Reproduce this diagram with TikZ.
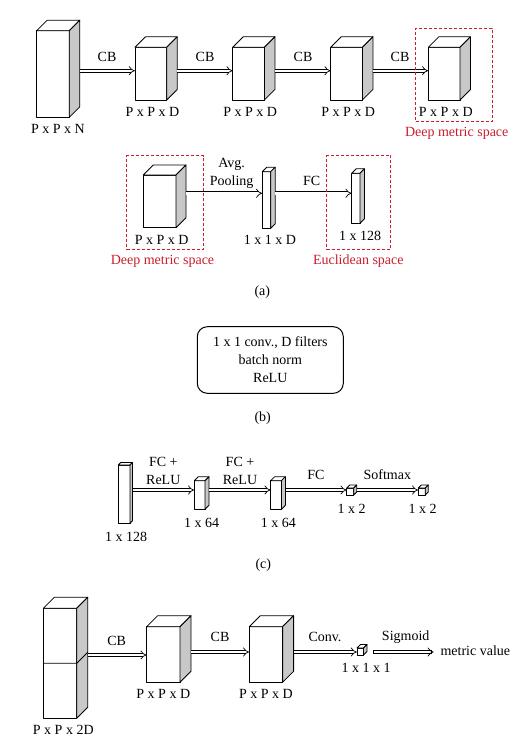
\documentclass[tikz,border=0pt]{standalone}
\usepackage{fontspec}
\setmainfont{Liberation Serif}
\usetikzlibrary{arrows.meta,fit}
\definecolor{dred}{RGB}{200,30,45}
\definecolor{sidegray}{RGB}{200,200,200}
\tikzset{
 boxline/.style={line width=0.8pt, line join=round},
 arr/.style={double, double distance=2.4pt, line width=0.7pt, -{Implies}},
 lbl/.style={inner sep=0pt, font=\fontsize{14}{18}\selectfont},
 redlbl/.style={lbl, text=dred},
 redbox/.style={draw=dred, line width=0.8pt, dash pattern=on 3pt off 2pt, inner sep=0pt},
}
\newcommand\cuboid[6]{%
 \draw[boxline, fill=white] (#2,#3) rectangle (#2+#4,#3+#5);
 \draw[boxline, fill=white] (#2,#3) -- (#2+#6,#3-#6) -- (#2+#4+#6,#3-#6) -- (#2+#4,#3) -- cycle;
 \draw[boxline, fill=sidegray] (#2+#4,#3) -- (#2+#4+#6,#3-#6) -- (#2+#4+#6,#3+#5-#6) -- (#2+#4,#3+#5) -- cycle;
 \node[inner sep=0pt, fit={(#2,#3-#6) (#2+#4+#6,#3+#5)}] (#1) {};
}
\begin{document}
\begin{tikzpicture}[x=1pt,y=-1pt]
\useasboundingbox (0,0) rectangle (531,747);
% ---------- (a) top row ----------
\cuboid{a1}{36.7}{30.7}{32.6}{86.6}{10.5}
\cuboid{a2}{135}{47.3}{31.7}{52.7}{10.5}
\cuboid{a3}{232.7}{47.3}{31.7}{52.7}{10.5}
\cuboid{a4}{330.7}{47.3}{31.7}{52.7}{10.5}
\cuboid{a5}{428.3}{47.3}{31.7}{52.7}{10.5}
\coordinate (rowA) at (0,70.7);
\draw[arr] (a1.east |- rowA) -- (a2.west |- rowA);
\draw[arr] (a2.east |- rowA) -- (a3.west |- rowA);
\draw[arr] (a3.east |- rowA) -- (a4.west |- rowA);
\draw[arr] (a4.east |- rowA) -- (a5.west |- rowA);
\node[lbl] (cb1) at (107,57) {CB};
\node[lbl] (cb2) at (205,57) {CB};
\node[lbl] (cb3) at (303,57) {CB};
\node[lbl] (cb4) at (400,57) {CB};
\node[lbl] (la1) at (58,129) {P x P x N};
\node[lbl] (la2) at (152.5,112) {P x P x D};
\node[lbl] (la3) at (250.2,112) {P x P x D};
\node[lbl] (la4) at (348.2,112) {P x P x D};
\node[lbl] (la5) at (445.8,112) {P x P x D};
\node[redbox, fit={(415.7,28.3) (492.3,121.7)}] (r1) {};
\node[redlbl] (dm1) at (456.7,133.3) {Deep metric space};
% ---------- (a) second row ----------
\cuboid{b1}{143.3}{175}{32.7}{52.7}{10}
\cuboid{b2}{262.3}{171.7}{8.4}{56.6}{4.5}
\cuboid{b3}{351.7}{173.3}{8.3}{50}{4.5}
\coordinate (rowB) at (0,193.3);
\draw[arr] (b1.east |- rowB) -- (b2.west |- rowB);
\draw[arr] (b2.east |- rowB) -- (b3.west |- rowB);
\node[lbl, align=center] (pool) at (231.7,173.5) {Avg.\\Pooling};
\node[lbl] (fc1) at (311.7,180.7) {FC};
\node[lbl] (lb1) at (161.7,240) {P x P x D};
\node[lbl] (lb2) at (270,240) {1 x 1 x D};
\node[lbl] (lb3) at (360,236) {1 x 128};
\node[redbox, fit={(126.7,155.5) (203.3,249.3)}] (r2) {};
\node[redbox, fit={(326.7,155.5) (390.7,249.3)}] (r3) {};
\node[redlbl] (dm2) at (162.5,261) {Deep metric space};
\node[redlbl] (eu) at (358.3,261) {Euclidean space};
\node[lbl] (capa) at (262.3,291.7) {(a)};
% ---------- (b) ----------
\node[lbl, draw, line width=1pt, rounded corners=10pt, minimum width=146pt, minimum height=66.6pt, align=center] (cbox) at (270.3,360) {1 x 1 conv., D filters\\batch norm\\ReLU};
\node[lbl] (capb) at (262.7,418.3) {(b)};
% ---------- (c) ----------
\cuboid{c1}{118.3}{465}{11.7}{58.3}{2.5}
\cuboid{c2}{194.3}{480.7}{10.7}{28.6}{4}
\cuboid{c3}{270.7}{480.7}{10.7}{28.6}{4}
\cuboid{c4}{346.7}{488}{7}{7}{3}
\cuboid{c5}{418.3}{488}{7}{7}{3}
\coordinate (rowC) at (0,490);
\draw[arr] (c1.east |- rowC) -- (c2.west |- rowC);
\draw[arr] (c2.east |- rowC) -- (c3.west |- rowC);
\draw[arr] (c3.east |- rowC) -- (c4.west |- rowC);
\draw[arr] (c4.east |- rowC) -- (c5.west |- rowC);
\node[lbl, align=center] (fr1) at (163.3,470.5) {FC +\\ReLU};
\node[lbl, align=center] (fr2) at (240,470.5) {FC +\\ReLU};
\node[lbl] (fc2) at (316,475) {FC};
\node[lbl] (smx) at (387.3,475) {Softmax};
\node[lbl] (lc1) at (126,537.3) {1 x 128};
\node[lbl] (lc2) at (201.7,522.7) {1 x 64};
\node[lbl] (lc3) at (278.3,522.7) {1 x 64};
\node[lbl] (lc4) at (351.7,509.3) {1 x 2};
\node[lbl] (lc5) at (422.7,509.3) {1 x 2};
\node[lbl] (capc) at (263.3,565) {(c)};
% ---------- (d) ----------
\cuboid{d1}{43.3}{608.3}{33.4}{110}{11}
\draw[boxline] (43.3,663.3) -- (76.7,663.3) -- (87.7,652.3);
\cuboid{d2}{146.7}{626.7}{33.3}{55.6}{11}
\cuboid{d3}{249.3}{626.7}{33.3}{55.6}{11}
\cuboid{d4}{357}{648}{6.5}{7}{3.5}
\node[lbl] (mv) at (475.3,651) {metric value};
\coordinate (rowD1) at (0,655);
\coordinate (rowD) at (0,652);
\draw[arr] (d1.east |- rowD1) -- (d2.west |- rowD1);
\draw[arr] (d2.east |- rowD) -- (d3.west |- rowD);
\draw[arr] (d3.east |- rowD) -- (d4.west |- rowD);
\draw[arr, line cap=rect] ([xshift=8pt]d4.east |- rowD) -- ([xshift=-6.7pt]mv.west |- rowD);
\node[lbl] (cbd1) at (116.7,640.7) {CB};
\node[lbl] (cbd2) at (220,636.7) {CB};
\node[lbl] (conv) at (325,636.7) {Conv.};
\node[lbl] (sig) at (405.7,636.7) {Sigmoid};
\node[lbl] (ld1) at (63.3,730) {P x P x 2D};
\node[lbl] (ld2) at (163.3,694) {P x P x D};
\node[lbl] (ld3) at (266,694) {P x P x D};
\node[lbl] (ld4) at (366,668) {1 x 1 x 1};
\end{tikzpicture}
\end{document}
